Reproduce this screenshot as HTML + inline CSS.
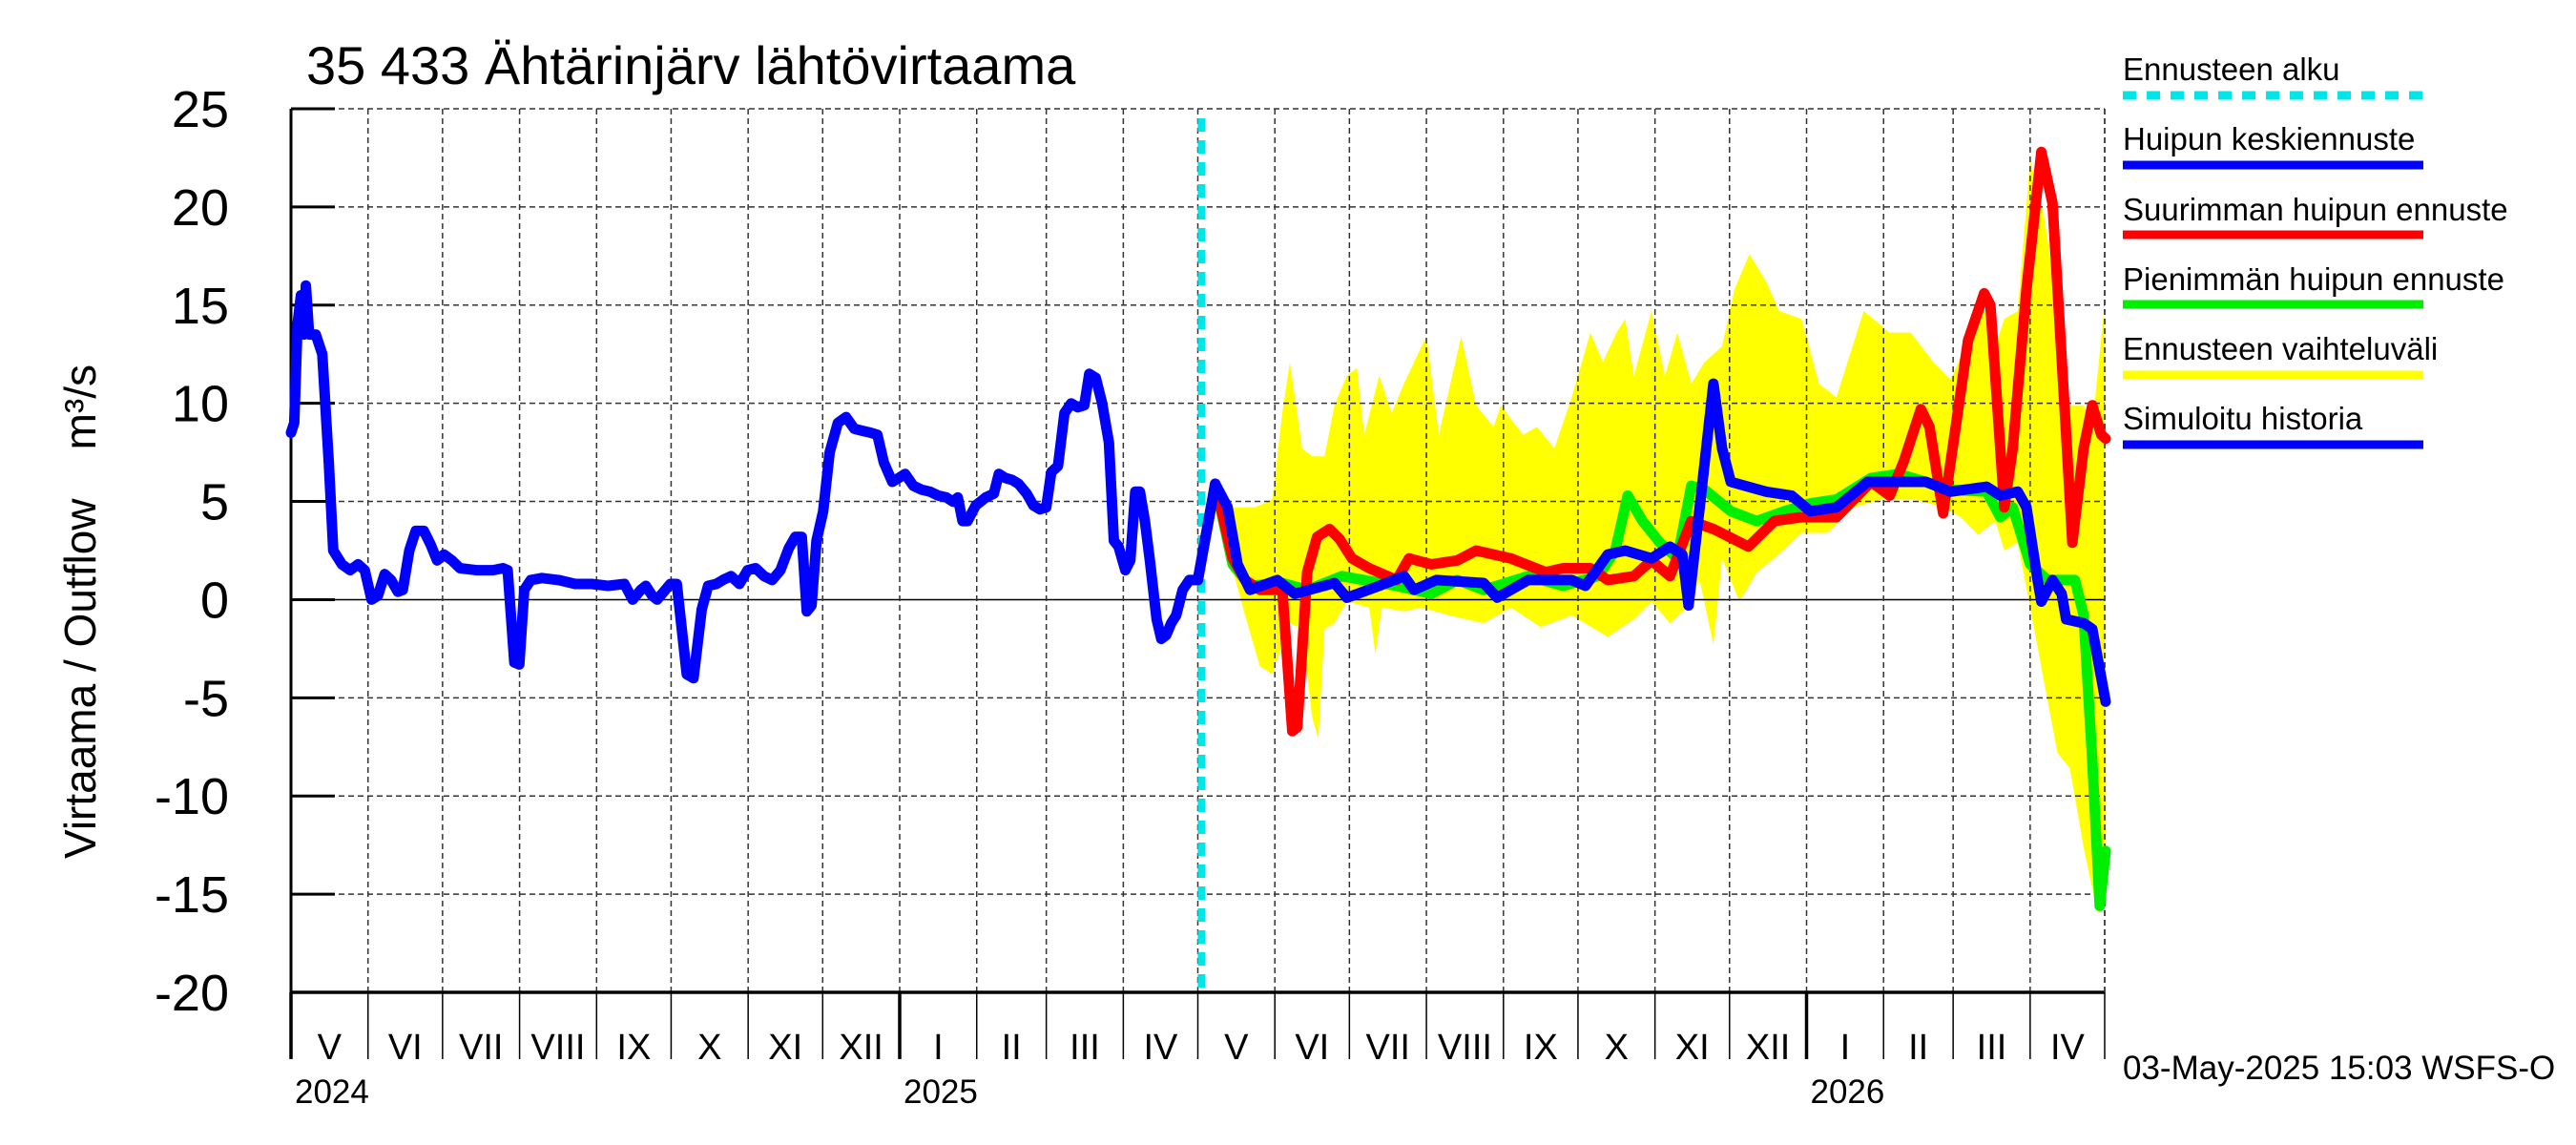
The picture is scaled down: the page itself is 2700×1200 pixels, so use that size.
<!DOCTYPE html>
<html><head><meta charset="utf-8"><style>
html,body{margin:0;padding:0;background:#fff}
svg{display:block}
text{font-family:"Liberation Sans",Arial,sans-serif;fill:#000}
</style></head><body>
<svg id="chart" width="2700" height="1200" viewBox="0 0 2700 1200" xmlns="http://www.w3.org/2000/svg">
<rect width="2700" height="1200" fill="#fff"/>
<text x="321" y="88" font-size="56">35 433 Ähtärinjärv lähtövirtaama</text>
<text transform="translate(100,641) rotate(-90)" text-anchor="middle" font-size="46" style="white-space:pre">Virtaama / Outflow    m³/s</text>
<g id="band"></g>
<g id="grid"></g>
<g id="axes"></g>
<g id="series"></g>
<g id="legend">
 <text x="2225" y="84" font-size="33">Ennusteen alku</text>
 <line x1="2225" x2="2540" y1="100" y2="100" stroke="#00e5e5" stroke-width="9" stroke-dasharray="14 11"/>
 <text x="2225" y="157" font-size="33">Huipun keskiennuste</text>
 <line x1="2225" x2="2540" y1="173" y2="173" stroke="#0000ff" stroke-width="9"/>
 <text x="2225" y="231" font-size="33">Suurimman huipun ennuste</text>
 <line x1="2225" x2="2540" y1="246" y2="246" stroke="#ff0000" stroke-width="9"/>
 <text x="2225" y="304" font-size="33">Pienimmän huipun ennuste</text>
 <line x1="2225" x2="2540" y1="319" y2="319" stroke="#00ee00" stroke-width="9"/>
 <text x="2225" y="377" font-size="33">Ennusteen vaihteluväli</text>
 <line x1="2225" x2="2540" y1="393" y2="393" stroke="#ffff00" stroke-width="9"/>
 <text x="2225" y="450" font-size="33">Simuloitu historia</text>
 <line x1="2225" x2="2540" y1="466" y2="466" stroke="#0000ff" stroke-width="9"/>
</g>
<text x="2225" y="1131" font-size="35">03-May-2025 15:03 WSFS-O</text>
</svg>
<script>
// ---- data ----
const yTicks = [25,20,15,10,5,0,-5,-10,-15,-20];
const monthLabels = ["V","VI","VII","VIII","IX","X","XI","XII","I","II","III","IV","V","VI","VII","VIII","IX","X","XI","XII","I","II","III","IV"];
const monthLengths = [31,30,31,31,30,31,30,31,31,28,31,30,31,30,31,31,30,31,30,31,31,28,31,30];
const yearLabels = ["2024","2025","2026"];
const yearStartMonthIdx = [0,8,20];
const forecastStartDay = 365;
const forecastLineDay = 366.5;
// history: days since 2024-05-01
const histDays = [0,1.3,2.6,4,5.3,6,7.3,10,12.6,15.2,17,20.5,23.8,27,29.7,32.4,35,37.7,40.3,43,45,47.6,50.2,53.5,56.2,58.8,61.5,64.8,68,74.7,81.3,85.3,87.2,89.9,91.9,93.9,96.5,101,107.7,114.4,121,127.6,134.2,137.5,140.8,142.8,145.4,147.4,150.7,152.7,155.3,159.3,162,165.3,167.9,171.2,173.8,177.1,180.5,183.8,187,190.4,193.7,197,200.3,203,205.6,207.6,209.5,211.5,214.2,216.8,220.1,223.4,226.7,230,233.3,236,238.6,242,244.6,247.2,250.5,253.8,257.2,260.5,263.8,266.4,268.4,270.3,272.3,275.6,279.6,282.9,284.9,287.5,290.2,292.8,296.1,298.8,301.4,304,306,308.7,311.3,314,316.6,319.3,321.3,323.9,326.5,329.2,331.2,333.1,335.8,337.8,339.8,341.7,343.7,345.7,348.4,350.3,352.3,354.3,356.3,358.9,361.6,365];
const histVals = [8.5,9,14,15.5,13.5,16,13.5,13.5,12.5,7,2.5,1.8,1.5,1.8,1.5,0,0.2,1.3,1,0.4,0.5,2.5,3.5,3.5,2.8,2,2.3,2,1.6,1.5,1.5,1.6,1.5,-3.2,-3.3,0.5,1,1.1,1,0.8,0.8,0.7,0.8,0,0.5,0.7,0.2,0,0.5,0.8,0.8,-3.8,-4,-0.5,0.7,0.8,1,1.2,0.8,1.5,1.6,1.2,1,1.5,2.6,3.2,3.2,-0.6,-0.3,3,4.5,7.5,9,9.3,8.7,8.6,8.5,8.4,7,6,6.2,6.4,5.8,5.6,5.5,5.3,5.2,5,5.2,4,4,4.8,5.2,5.4,6.4,6.2,6.1,5.9,5.4,4.8,4.6,4.7,6.5,6.8,9.5,10,9.8,9.9,11.5,11.3,10,8,3,2.7,1.5,2,5.5,5.5,4,2,-1,-2,-1.8,-1.2,-0.8,0.5,1,1.0];
// forecasts: days since forecast start (2025-05-01)
const meanDays = [0,7,12,16,21,32,39,55,60,73,83,87,96,115,120.5,133,150.5,156,165,172,182.6,190,195,197.5,202,207.5,211,214.5,228.7,239,246.5,257,269.6,282,293,303,317.5,323,330,333.5,338,339.5,344,347.7,349.5,356.5,360,365.4];
const meanVals = [1.0,5.9,4.7,1.8,0.5,1.0,0.3,0.85,0.1,0.7,1.2,0.5,1.0,0.85,0.1,1.0,1.0,0.7,2.3,2.5,2.1,2.7,2.3,-0.3,4.7,11,7.7,6.0,5.5,5.3,4.5,4.7,6.0,6.0,6.0,5.5,5.75,5.3,5.5,4.7,1.0,-0.1,1.0,0.3,-1.0,-1.2,-1.5,-5.2];
const maxDays = [0,7,14,19,25,34,38,40,44,48,53,57,62,69,80,85,94,104.5,112,126,140,147,158,165,175.5,182.6,190,198.6,207.5,221.6,232,243,257,271,278.5,284,291,294.5,300,305,310,316.5,319,324.6,328,333.5,339.5,344,349.5,352,356.5,360,363.6,365.4];
const maxVals = [1.0,5.9,2.1,1.0,0.5,0.5,-6.7,-6.5,1.4,3.2,3.6,3.1,2.1,1.6,1.0,2.1,1.8,2.0,2.5,2.1,1.4,1.6,1.6,1.0,1.2,2.0,1.2,4.0,3.6,2.7,4.0,4.2,4.2,6.0,5.3,7.0,9.7,8.8,4.4,8.8,13.2,15.6,15.0,4.7,7.7,15.8,22.8,20.2,8.4,2.9,7.7,9.9,8.4,8.2];
const minDays = [0,7,14,21,34,44,58,80,94,104.5,115,133,147,161,168,173,179,186,193,198.6,204,214.5,225,236,246.5,257,271,282,293,303,317.5,323,328,335,342,353,356.5,360,363,365.4];
const minVals = [1.0,5.9,1.8,0.7,0.85,0.5,1.2,0.7,0.3,1.0,0.5,1.2,0.7,1.2,2.5,5.3,4.0,2.9,2.1,5.8,5.6,4.5,4.0,4.5,4.9,5.1,6.2,6.4,6.0,5.6,5.5,4.2,4.7,1.8,1.0,1.0,-0.8,-8.2,-15.6,-12.8];
const bandUpDays = [0,7,14,23,30,34,37,42,46,51,55,60,64,67,73,78,83,88.5,92,97,106,112,119,122,126,131,136.5,143.5,150.5,158,163,168.5,172,175.5,182.6,188,193,198.6,204,211,216,222,228.7,234,243,250,257,268,278.5,287,296,303,310,316,321,324.6,330,335,340.6,346,351,356.5,360,364.7];
const bandUpVals = [1,6,4.7,4.7,5.1,9.5,12.1,7.7,7.3,7.3,9.9,11.4,11.8,8.4,11.4,9.5,11,12.5,13.4,8.4,13.4,9.9,8.8,9.9,9.2,8.4,8.8,7.7,10.3,13.6,12.1,13.6,14.3,11.4,14.7,11.4,13.6,11,12.1,12.9,15.8,17.6,16.2,14.7,14.3,11,10.3,14.7,13.6,13.6,12.1,11.2,13.2,15.0,12.9,14.3,14.7,22.4,19.5,15.0,9.9,9.9,8.8,14.7];
const bandLoDays = [0,7,12,19,25,30,34,37,42,46,48.5,51,55,60,69,71.5,74,83,90,101,115,126,138,150.5,165,175.5,182.6,190,197,202,207.5,211,218,225,232,243,253.6,264,275,289,300,307,314,321,324.6,330,335,340.6,346,351,356.5,362,365.4];
const bandLoVals = [1,5.9,2.5,-0.8,-3.4,-3.8,-2.3,-1.2,-1.5,-6.0,-7.1,-1.5,-1.2,-0.1,-0.4,-2.8,-0.4,-0.6,-0.4,-0.8,-1.2,-0.4,-1.4,-0.8,-1.9,-1.0,-0.1,-1.2,-0.4,1.0,-2.3,2.1,-0.1,1.4,2.1,3.4,3.4,4.7,5.1,5.1,4.7,4.2,3.3,4.0,2.5,2.9,-0.4,-4.2,-7.8,-8.6,-12.6,-15.9,-15.2];

// ---- scales ----
const X0=305, X1=2206, Y0=114, Y1=1040, DAYS=730;
const xs = d => X0 + d*(X1-X0)/DAYS;
const ys = v => Y0 + (25-v)*(Y1-Y0)/45;
const NS="http://www.w3.org/2000/svg";
function mk(tag, parent, attrs){const e=document.createElementNS(NS,tag);for(const k in attrs)e.setAttribute(k,attrs[k]);parent.appendChild(e);return e;}
const gBand=document.getElementById('band'), gGrid=document.getElementById('grid'), gAx=document.getElementById('axes'), gSer=document.getElementById('series');

// band
let pts=[];
bandUpDays.forEach((d,i)=>pts.push(xs(d+forecastStartDay).toFixed(1)+","+ys(bandUpVals[i]).toFixed(1)));
for(let i=bandLoDays.length-1;i>=0;i--)pts.push(xs(bandLoDays[i]+forecastStartDay).toFixed(1)+","+ys(bandLoVals[i]).toFixed(1));
const poly=mk('polygon',gBand,{points:pts.join(' '),fill:'#ffff00',stroke:'none'});



// horizontal grid + ticks + labels
yTicks.forEach(v=>{
  const y=ys(v);
  if(v!==-20){
    const l=mk('line',gGrid,{x1:X0,x2:X1,y1:y,y2:y,stroke:v===0?'#000':'#333','stroke-width':1.5,'stroke-dasharray':v===0?'none':'6 4'});
    
    
  }
  const t=mk('line',gAx,{x1:X0,x2:X0+46,y1:y,y2:y,stroke:'#000','stroke-width':3});
  
  
  const tx=mk('text',gAx,{x:240,y:y+19,'text-anchor':'end','font-size':54});
  tx.textContent=String(v);
  
  
});

// month boundaries
let day=0; const bounds=[0];
monthLengths.forEach(m=>{day+=m;bounds.push(day);});
bounds.forEach((d,i)=>{
  const x=xs(d);
  if(i>0){
    const g=mk('line',gGrid,{x1:x,x2:x,y1:Y0,y2:Y1,stroke:'#333','stroke-width':1.5,'stroke-dasharray':'6 4'});
    
    
  }
  const isYear=yearStartMonthIdx.includes(i);
  const s=mk('line',gAx,{x1:x,x2:x,y1:Y1,y2:1110,stroke:'#000','stroke-width':isYear?3.5:1.5});
  
  
  if(i<monthLabels.length){
    const mt=mk('text',gAx,{x:(xs(d)+xs(bounds[i+1]))/2,y:1110,'text-anchor':'middle','font-size':38});
    mt.textContent=monthLabels[i];
    
    
  }
});
yearLabels.forEach((yl,i)=>{
  const t=mk('text',gAx,{x:xs(bounds[yearStartMonthIdx[i]])+4,y:1156,'font-size':35});
  t.textContent=yl;
  
  
});
// axes lines
const la=mk('line',gAx,{x1:X0,x2:X0,y1:Y0,y2:Y1,stroke:'#000','stroke-width':3});


const ba=mk('line',gAx,{x1:X0,x2:X1,y1:Y1,y2:Y1,stroke:'#000','stroke-width':3.5});


const ra=mk('line',gAx,{x1:X1,x2:X1,y1:Y0,y2:Y1,stroke:'#333','stroke-width':1.5,'stroke-dasharray':'6 4'});



// forecast start line
const fl=mk('line',gSer,{x1:xs(forecastLineDay),x2:xs(forecastLineDay),y1:Y0+10,y2:Y1,stroke:'#00e5e5','stroke-width':8,'stroke-dasharray':'14 9'});



function series(days,vals,offset,color,name){
  const d=days.map((dd,i)=>(i?'L':'M')+xs(dd+offset).toFixed(1)+' '+ys(vals[i]).toFixed(1)).join(' ');
  const p=mk('path',gSer,{d:d,fill:'none',stroke:color,'stroke-width':11,'stroke-linejoin':'round','stroke-linecap':'round'});
  
  
}
series(minDays,minVals,forecastStartDay,'#00ee00','min-peak-forecast-line');
series(maxDays,maxVals,forecastStartDay,'#ff0000','max-peak-forecast-line');
series(histDays,histVals,0,'#0000ff','simulated-history-line');
series(meanDays,meanVals,forecastStartDay,'#0000ff','mean-peak-forecast-line');
</script>
</body></html>
